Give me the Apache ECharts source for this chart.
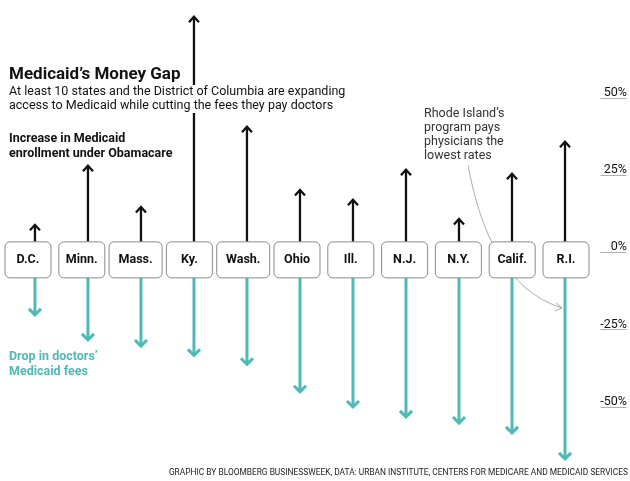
<!DOCTYPE html>
<html>
<head>
<meta charset="utf-8">
<script src="https://cdn.jsdelivr.net/npm/echarts@6/dist/echarts.min.js"></script>
<style>
html,body{margin:0;padding:0;background:#fff;}
#chart{width:630px;height:481px;}
</style>
</head>
<body>
<div id="chart"></div>
<script>
// ---- data ----
const states = ['D.C.', 'Minn.', 'Mass.', 'Ky.', 'Wash.', 'Ohio', 'Ill.', 'N.J.', 'N.Y.', 'Calif.', 'R.I.'];
const enrollmentIncrease = [8.9, 28.0, 14.7, 76.2, 40.6, 20.2, 17.0, 26.7, 10.8, 25.4, 35.8];
const feeDrop = [-20.2, -28.3, -30.3, -33.3, -36.2, -45.1, -50.0, -53.2, -55.2, -58.4, -66.8];
const yTicks = [-50, -25, 0, 25, 50];

const FONT = 'Roboto, "Liberation Sans", sans-serif';
const TEAL = '#4dbab6';
const BLACK = '#111111';
const BOX_TOP = 10.5;     // px above zero line
const BOX_H = 36;

const chart = echarts.init(document.getElementById('chart'), null, {renderer: 'canvas'});

const measureCtx = document.createElement('canvas').getContext('2d');
function textW(t, font) { measureCtx.font = font; return measureCtx.measureText(t).width; }

function arrowUp(params, api) {
  const i = api.value(0), v = api.value(1);
  const base = api.coord([i, 0]);
  const tip = api.coord([i, v]);
  const x = tip[0];
  const y0 = base[1] - BOX_TOP;
  return {
    type: 'group',
    children: [
      {type: 'line', shape: {x1: x, y1: y0, x2: x, y2: tip[1] + 1}, style: {stroke: BLACK, lineWidth: 2.3}},
      {type: 'polyline', shape: {points: [[x - 5, tip[1] + 5.5], [x, tip[1]], [x + 5, tip[1] + 5.5]]},
        style: {stroke: BLACK, lineWidth: 2.3, fill: null, lineJoin: 'miter'}}
    ]
  };
}

function arrowDown(params, api) {
  const i = api.value(0), v = api.value(1);
  const base = api.coord([i, 0]);
  const tip = api.coord([i, v]);
  const x = tip[0];
  const y0 = base[1] - BOX_TOP + BOX_H;
  return {
    type: 'group',
    children: [
      {type: 'line', shape: {x1: x, y1: y0, x2: x, y2: tip[1] - 1}, style: {stroke: TEAL, lineWidth: 3}},
      {type: 'polyline', shape: {points: [[x - 6, tip[1] - 6], [x, tip[1]], [x + 6, tip[1] - 6]]},
        style: {stroke: TEAL, lineWidth: 3, fill: null, lineJoin: 'miter'}}
    ]
  };
}

function stateBox(params, api) {
  const i = api.value(0);
  const c = api.coord([i, 0]);
  const name = states[i];
  const tw = textW(name, 'bold 12px ' + FONT);
  const w = tw > 32 ? 53 : 46;
  return {
    type: 'group',
    children: [
      {type: 'rect', shape: {x: c[0] - w / 2, y: c[1] - BOX_TOP, width: w, height: BOX_H, r: 5},
        style: {fill: '#fff', stroke: '#8a8a8a', lineWidth: 1}},
      {type: 'text', x: c[0], y: c[1] - BOX_TOP + BOX_H / 2,
        style: {text: name, font: 'bold 12.5px ' + FONT, fill: '#111', align: 'center', verticalAlign: 'middle'}}
    ]
  };
}

const option = {
  backgroundColor: '#fff',
  animation: false,
  grid: [
    {left: 8.45, right: 37.45, top: 5, bottom: 12.2},
    {left: 1.1, right: 37.1, top: 5, bottom: 12.2}
  ],
  xAxis: [
    {type: 'category', gridIndex: 0, data: states, show: false},
    {type: 'category', gridIndex: 1, data: states, show: false}
  ],
  yAxis: [
    {
      type: 'value', gridIndex: 0, position: 'right', offset: 9, min: -70, max: 80,
      axisLine: {show: false}, splitLine: {show: false},
      axisTick: {show: true, customValues: yTicks, length: 26, inside: false,
        lineStyle: {color: '#b0b0b0', width: 1}},
      axisLabel: {customValues: yTicks, formatter: v => v + '%', align: 'right', margin: 26.5,
        verticalAlign: 'bottom', lineHeight: 10, color: '#111', fontFamily: FONT, fontSize: 12.5}
    },
    {type: 'value', gridIndex: 1, min: -70, max: 80, show: false}
  ],
  series: [
    {type: 'custom', xAxisIndex: 0, yAxisIndex: 0, renderItem: arrowUp, clip: false, z: 2,
      data: enrollmentIncrease.map((v, i) => [i, v])},
    {type: 'custom', xAxisIndex: 0, yAxisIndex: 0, renderItem: arrowDown, clip: false, z: 2,
      data: feeDrop.map((v, i) => [i, v])},
    {type: 'custom', xAxisIndex: 1, yAxisIndex: 1, renderItem: stateBox, clip: false, z: 6,
      data: states.map((s, i) => [i, 0])}
  ],
  graphic: [
    {type: 'text', left: 9, top: 66, z: 10,
      style: {text: 'Medicaid’s Money Gap', font: 'bold 17px ' + FONT, fill: '#111'}},
    {type: 'text', left: 9, top: 85, z: 10,
      style: {text: 'At least 10 states and the District of Columbia are expanding\naccess to Medicaid while cutting the fees they pay doctors',
        font: '12.5px ' + FONT, fill: '#111', lineHeight: 14, backgroundColor: '#fff', padding: [0, 2, 0, 0]}},
    {type: 'text', left: 9, top: 132, z: 10,
      style: {text: 'Increase in Medicaid\nenrollment under Obamacare', font: 'bold 12.5px ' + FONT, fill: '#111', lineHeight: 14.5}},
    {type: 'text', left: 9, top: 350, z: 10,
      style: {text: 'Drop in doctors’\nMedicaid fees', font: 'bold 12.5px ' + FONT, fill: TEAL, lineHeight: 14.5}},
    {type: 'text', left: 424, top: 107, z: 10,
      style: {text: 'Rhode Island’s\nprogram pays\nphysicians the\nlowest rates', font: '12.5px ' + FONT, fill: '#333', lineHeight: 14}},
    {type: 'bezierCurve', z: 1,
      shape: {x1: 468, y1: 165, cpx1: 480, cpy1: 230, cpx2: 505, cpy2: 290, x2: 562, y2: 308},
      style: {stroke: '#999', lineWidth: 0.8, fill: null}},
    {type: 'polyline', z: 1,
      shape: {points: [[556, 303], [562, 308], [555, 311]]},
      style: {stroke: '#999', lineWidth: 0.8, fill: null}},
    {type: 'text', right: 2, bottom: 4, z: 10,
      style: {text: 'GRAPHIC BY BLOOMBERG BUSINESSWEEK, DATA: URBAN INSTITUTE, CENTERS FOR MEDICARE AND MEDICAID SERVICES',
        font: '8.4px ' + FONT, fill: '#222'}}
  ]
};
chart.setOption(option);
</script>
</body>
</html>
